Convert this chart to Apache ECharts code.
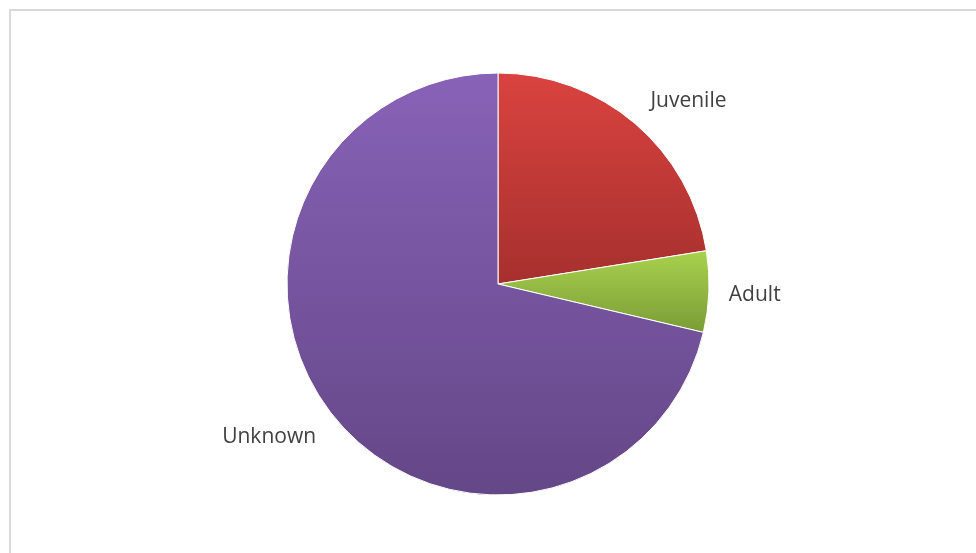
<!DOCTYPE html>
<html><head><meta charset="utf-8">
<script src="https://cdn.jsdelivr.net/npm/echarts@6/dist/echarts.min.js"></script>
<style>html,body{margin:0;padding:0;background:#fff;}#c{width:976px;height:553px;}</style>
</head><body><div id="c"></div>
<script>
const categories = ['Juvenile', 'Adult', 'Unknown'];
const values = [29, 8, 92];
const colorsTop = ['#da433f', '#a9d24e', '#8862b7'];
const colorsBottom = ['#a6302e', '#7a9c36', '#644787'];
const labelNudgeX = [-9, -15, 12];
const labelNudgeY = [0, 2, 3];

const chart = echarts.init(document.getElementById('c'));
const grad = (i) => new echarts.graphic.LinearGradient(0, 0, 0, 1, [
  {offset: 0, color: colorsTop[i]}, {offset: 1, color: colorsBottom[i]}]);
chart.setOption({
  animation: false,
  graphic: [{
    type: 'rect', shape: {x: 10, y: 10, width: 1000, height: 600},
    style: {fill: 'none', stroke: '#d9d9d9', lineWidth: 2}, silent: true
  }],
  series: [{
    type: 'pie',
    center: [498, 284],
    radius: 211,
    startAngle: 90,
    clockwise: true,
    label: {
      show: true, position: 'outside', color: '#404040',
      fontFamily: 'Open Sans', fontSize: 21, formatter: '{b}'
    },
    labelLine: {show: false, length: 30, length2: 0},
    labelLayout: (p) => ({dx: labelNudgeX[p.dataIndex], dy: labelNudgeY[p.dataIndex]}),
    itemStyle: {borderColor: '#ffffff', borderWidth: 1},
    data: categories.map((n, i) => ({name: n, value: values[i], itemStyle: {color: grad(i)}}))
  }]
});
</script></body></html>
